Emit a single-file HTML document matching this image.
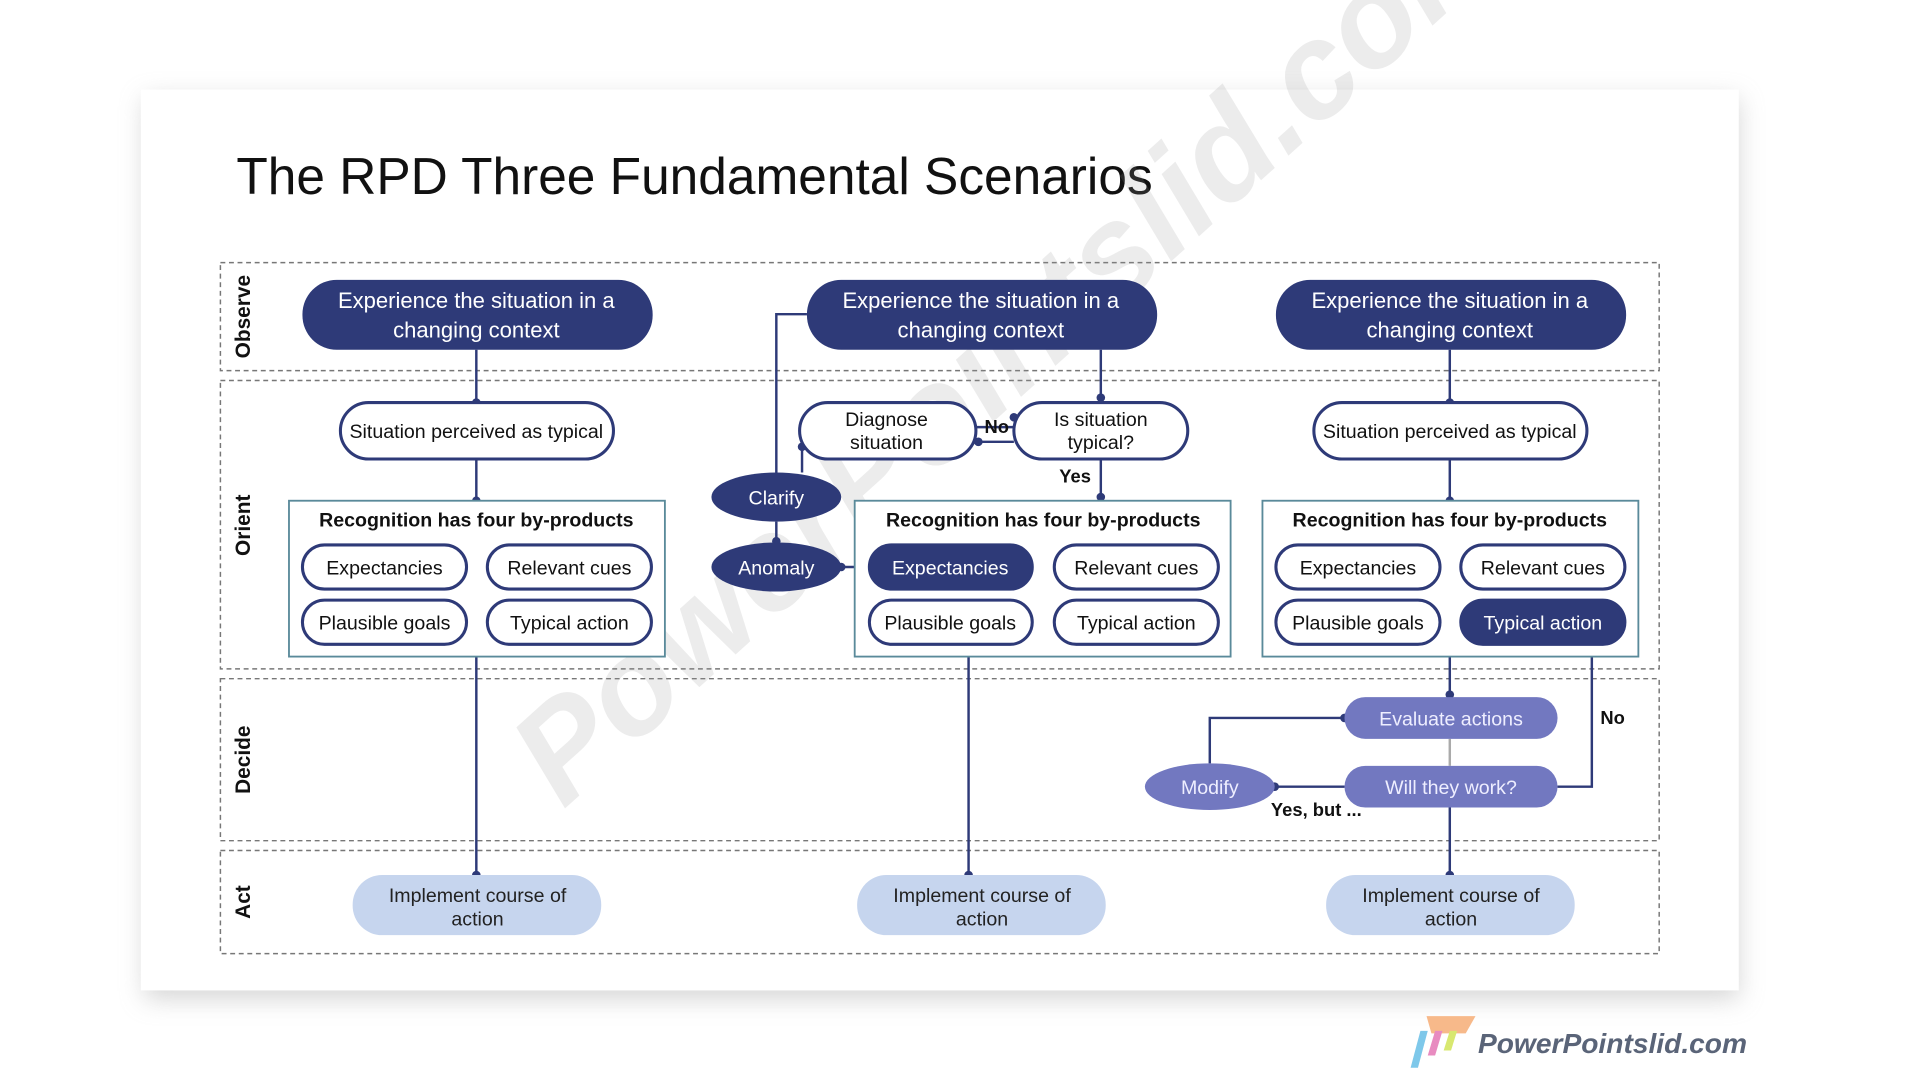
<!DOCTYPE html>
<html><head><meta charset="utf-8"><style>
html,body{margin:0;padding:0;background:#fff;}
svg{display:block;}
text{font-family:"Liberation Sans",sans-serif;}
</style></head><body>
<svg width="1920" height="1080" viewBox="0 0 1568 880" preserveAspectRatio="none" xmlns="http://www.w3.org/2000/svg">
<defs>
<filter id="sh" x="-10%" y="-10%" width="120%" height="130%"><feGaussianBlur stdDeviation="10"/></filter>
</defs>
<rect x="0" y="0" width="1568" height="880" fill="#fff"/>
<rect x="118" y="80" width="1302" height="734" fill="#bbb" filter="url(#sh)" opacity="0.6"/>
<rect x="115" y="73" width="1305" height="734" fill="#fff"/>
<text x="193" y="158" font-size="42" fill="#111">The RPD Three Fundamental Scenarios</text>

<g fill="none" stroke="#777" stroke-width="1.2" stroke-dasharray="4,3">
<rect x="180" y="214" width="1175" height="88"/>
<rect x="180" y="310" width="1175" height="235"/>
<rect x="180" y="553" width="1175" height="132"/>
<rect x="180" y="693" width="1175" height="84"/>
</g>
<g font-size="17" font-weight="bold" fill="#111" text-anchor="middle">
<text transform="translate(204,258) rotate(-90)">Observe</text>
<text transform="translate(204,428) rotate(-90)">Orient</text>
<text transform="translate(204,619) rotate(-90)">Decide</text>
<text transform="translate(204,735) rotate(-90)">Act</text>
</g>

<!-- watermark -->
<text x="0" y="0" font-size="110" font-weight="bold" font-style="italic" fill="#999" opacity="0.18" transform="translate(460,660) rotate(-42)">PowerPointslid.com</text>

<!-- connectors -->
<g stroke="#2e3a78" stroke-width="2" fill="none">
<path d="M389 285V328M389 374V408M389 535V713"/>
<path d="M899 285V328M899 374V408M791 535V713"/>
<path d="M634 385V256H659M655 385V360M634 425V442M687 462H710M797 348H828M797 360H828"/>
<path d="M1184 285V328M1184 374V408M1184 535V568M1184 658V713"/>
<path d="M988 622V585H1098M1041 641H1098M1300 527V641H1272"/>
</g>
<path d="M1184 602V624" stroke="#aaa" stroke-width="2"/>
<g fill="#2e3a78">
<circle cx="389" cy="328" r="3.5"/><circle cx="389" cy="408" r="3.5"/><circle cx="389" cy="713" r="3.5"/>
<circle cx="899" cy="324" r="3.5"/><circle cx="899" cy="405" r="3.5"/><circle cx="791" cy="713" r="3.5"/>
<circle cx="828" cy="340" r="3.5"/><circle cx="799" cy="360" r="3.5"/><circle cx="655" cy="364" r="3.5"/>
<circle cx="634" cy="441" r="3.5"/><circle cx="687" cy="462" r="3.5"/>
<circle cx="1184" cy="328" r="3.5"/><circle cx="1184" cy="408" r="3.5"/><circle cx="1184" cy="566" r="3.5"/><circle cx="1184" cy="713" r="3.5"/>
<circle cx="1098" cy="585" r="3.5"/><circle cx="1041" cy="641" r="3.5"/><circle cx="1300" cy="527" r="3.5"/>
</g>

<!-- observe pills -->
<g fill="#2e3a78">
<rect x="247" y="228" width="286" height="57" rx="28"/>
<rect x="659" y="228" width="286" height="57" rx="28"/>
<rect x="1042" y="228" width="286" height="57" rx="28"/>
</g>
<g font-size="18" fill="#fff" text-anchor="middle">
<text x="389" y="251">Experience the situation in a</text><text x="389" y="275">changing context</text>
<text x="801" y="251">Experience the situation in a</text><text x="801" y="275">changing context</text>
<text x="1184" y="251">Experience the situation in a</text><text x="1184" y="275">changing context</text>
</g>

<!-- orient white pills -->
<g fill="#fff" stroke="#2e3a78" stroke-width="2.5">
<rect x="278" y="328" width="223" height="46" rx="23"/>
<rect x="1073" y="328" width="223" height="46" rx="23"/>
<rect x="653" y="328" width="144" height="46" rx="23"/>
<rect x="828" y="328" width="142" height="46" rx="23"/>
</g>
<g font-size="16" fill="#111" text-anchor="middle">
<text x="389" y="357">Situation perceived as typical</text>
<text x="1184" y="357">Situation perceived as typical</text>
<text x="724" y="347">Diagnose</text><text x="724" y="366">situation</text>
<text x="899" y="347">Is situation</text><text x="899" y="366">typical?</text>
</g>
<g font-size="15" font-weight="bold" fill="#111" text-anchor="middle">
<text x="814" y="353">No</text>
<text x="878" y="393">Yes</text>
<text x="1317" y="590">No</text>
<text x="1075" y="665">Yes, but ...</text>
</g>

<!-- clarify / anomaly -->
<g fill="#2e3a78">
<ellipse cx="634" cy="405" rx="53" ry="20"/>
<ellipse cx="634" cy="462" rx="53" ry="20"/>
</g>
<g font-size="16" fill="#fff" text-anchor="middle">
<text x="634" y="411">Clarify</text><text x="634" y="468">Anomaly</text>
</g>

<!-- recognition boxes -->
<g fill="#fff" stroke="#5a8a9a" stroke-width="1.5">
<rect x="236" y="408" width="307" height="127"/>
<rect x="698" y="408" width="307" height="127"/>
<rect x="1031" y="408" width="307" height="127"/>
</g>
<g font-size="16" font-weight="bold" fill="#111" text-anchor="middle">
<text x="389" y="429">Recognition has four by-products</text>
<text x="852" y="429">Recognition has four by-products</text>
<text x="1184" y="429">Recognition has four by-products</text>
</g>
<g fill="#fff" stroke="#2e3a78" stroke-width="2.5">
<rect x="247" y="444" width="134" height="36" rx="18"/><rect x="398" y="444" width="134" height="36" rx="18"/>
<rect x="247" y="489" width="134" height="36" rx="18"/><rect x="398" y="489" width="134" height="36" rx="18"/>
<rect x="710" y="444" width="133" height="36" rx="18" fill="#2e3a78"/><rect x="861" y="444" width="134" height="36" rx="18"/>
<rect x="710" y="489" width="133" height="36" rx="18"/><rect x="861" y="489" width="134" height="36" rx="18"/>
<rect x="1042" y="444" width="134" height="36" rx="18"/><rect x="1193" y="444" width="134" height="36" rx="18"/>
<rect x="1042" y="489" width="134" height="36" rx="18"/><rect x="1193" y="489" width="134" height="36" rx="18" fill="#2e3a78"/>
</g>
<g font-size="16" fill="#111" text-anchor="middle">
<text x="314" y="468">Expectancies</text><text x="465" y="468">Relevant cues</text>
<text x="314" y="513">Plausible goals</text><text x="465" y="513">Typical action</text>
<text x="776" y="468" fill="#fff">Expectancies</text><text x="928" y="468">Relevant cues</text>
<text x="776" y="513">Plausible goals</text><text x="928" y="513">Typical action</text>
<text x="1109" y="468">Expectancies</text><text x="1260" y="468">Relevant cues</text>
<text x="1109" y="513">Plausible goals</text><text x="1260" y="513" fill="#fff">Typical action</text>
</g>

<!-- decide -->
<g fill="#7278c0">
<rect x="1098" y="568" width="174" height="34" rx="17"/>
<rect x="1098" y="624" width="174" height="34" rx="17"/>
<ellipse cx="988" cy="641" rx="53" ry="19"/>
</g>
<g font-size="16" fill="#eef" text-anchor="middle">
<text x="1185" y="591">Evaluate actions</text>
<text x="1185" y="647">Will they work?</text>
<text x="988" y="647">Modify</text>
</g>

<!-- act -->
<g fill="#c6d5ee">
<rect x="288" y="713" width="203" height="49" rx="24"/>
<rect x="700" y="713" width="203" height="49" rx="24"/>
<rect x="1083" y="713" width="203" height="49" rx="24"/>
</g>
<g font-size="16" fill="#222" text-anchor="middle">
<text x="390" y="735">Implement course of</text><text x="390" y="754">action</text>
<text x="802" y="735">Implement course of</text><text x="802" y="754">action</text>
<text x="1185" y="735">Implement course of</text><text x="1185" y="754">action</text>
</g>

<path d="M1165 828h40l-8 14h-28z" fill="#f7b98a"/>
<path d="M1160 840l-8 30h6l8-30z" fill="#7ec8ea"/>
<path d="M1172 840l-6 20h6l6-20z" fill="#e88bc0"/>
<path d="M1184 840l-5 16h6l5-16z" fill="#d8e870"/>
<text x="1207" y="858" font-size="23" font-weight="bold" font-style="italic" fill="#5a6478">PowerPointslid.com</text>
</svg>
</body></html>
